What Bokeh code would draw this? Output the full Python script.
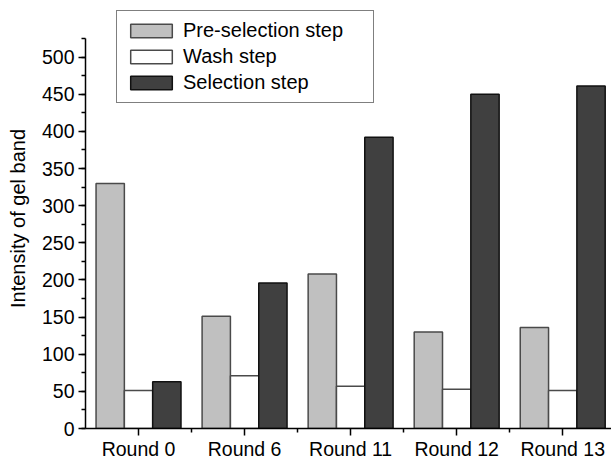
from bokeh.plotting import figure
from bokeh.models import ColumnDataSource, FixedTicker, Legend, LegendItem, Range1d
from bokeh.transform import dodge
from bokeh.embed import file_html
from bokeh.resources import INLINE

# Gel band intensities per selection round
rounds = ["Round 0", "Round 6", "Round 11", "Round 12", "Round 13"]
pre_selection = [330, 151, 208, 130, 136]
wash = [51, 71, 57, 53, 51]
selection = [63, 196, 392, 450, 461]

positions = list(range(1, len(rounds) + 1))
source = ColumnDataSource(dict(x=positions, pre=pre_selection, wash=wash, sel=selection))

FONT = "Liberation Sans"
bar_w = 0.267

# frame reaches near the top of the canvas so the legend box can sit above the axis end
p = figure(width=611, height=462, output_backend="svg", toolbar_location=None,
           x_range=Range1d(0.5, 5.46), y_range=Range1d(0, 565.5),
           min_border_left=85, min_border_right=0, min_border_top=8, min_border_bottom=31)
p.outline_line_color = None
p.grid.visible = False
p.background_fill_color = "white"
p.border_fill_color = "white"

r_pre = p.vbar(x=dodge("x", -bar_w, range=p.x_range), top="pre", width=bar_w, source=source,
               fill_color="#C0C0C0", line_color="#4a4a4a", line_width=1.5)
r_wash = p.vbar(x=dodge("x", 0, range=p.x_range), top="wash", width=bar_w, source=source,
                fill_color="#FFFFFF", line_color="#4a4a4a", line_width=1.5)
r_sel = p.vbar(x=dodge("x", bar_w, range=p.x_range), top="sel", width=bar_w, source=source,
               fill_color="#404040", line_color="#111111", line_width=1.5)

# x axis: one labelled tick per round, minor ticks between groups
p.xaxis.ticker = FixedTicker(ticks=positions, minor_ticks=[x + 0.5 for x in positions])
p.xaxis.major_label_overrides = {x: r for x, r in zip(positions, rounds)}
# y axis stops at 525
p.yaxis.ticker = FixedTicker(ticks=list(range(0, 501, 50)), minor_ticks=list(range(0, 526, 25)))
p.yaxis.bounds = (0, 525)
p.yaxis.axis_label = "Intensity of gel band"

for ax in (p.xaxis, p.yaxis):
    ax.axis_line_color = "black"
    ax.axis_line_width = 1.5
    ax.major_tick_line_color = "black"
    ax.major_tick_line_width = 1.5
    ax.minor_tick_line_color = "black"
    ax.minor_tick_line_width = 1.5
    ax.major_tick_in = 0
    ax.major_tick_out = 7
    ax.minor_tick_in = 0
    ax.minor_tick_out = 4
    ax.major_label_text_font = FONT
    ax.major_label_text_font_size = "19.5px"
    ax.major_label_text_color = "black"

p.xaxis.major_label_standoff = 2
p.yaxis.major_label_standoff = 4
p.yaxis.axis_label_text_font = FONT
p.yaxis.axis_label_text_font_size = "20px"
p.yaxis.axis_label_text_font_style = "normal"
p.yaxis.axis_label_text_color = "black"
p.yaxis.axis_label_standoff = 10

legend = Legend(items=[
    LegendItem(label="Pre-selection step", renderers=[r_pre]),
    LegendItem(label="Wash step", renderers=[r_wash]),
    LegendItem(label="Selection step", renderers=[r_sel]),
], location=(31, 325))
legend.glyph_width = 52
legend.glyph_height = 17
legend.label_standoff = 6
legend.label_width = 182
legend.label_height = 20
legend.spacing = 3
legend.padding = 8
legend.margin = 0
legend.border_line_color = "black"
legend.border_line_width = 1
legend.background_fill_color = "white"
legend.background_fill_alpha = 1
legend.label_text_font = FONT
legend.label_text_font_size = "20px"
legend.label_text_color = "black"
p.add_layout(legend, "center")

open("out.html", "w").write(file_html(p, INLINE))
